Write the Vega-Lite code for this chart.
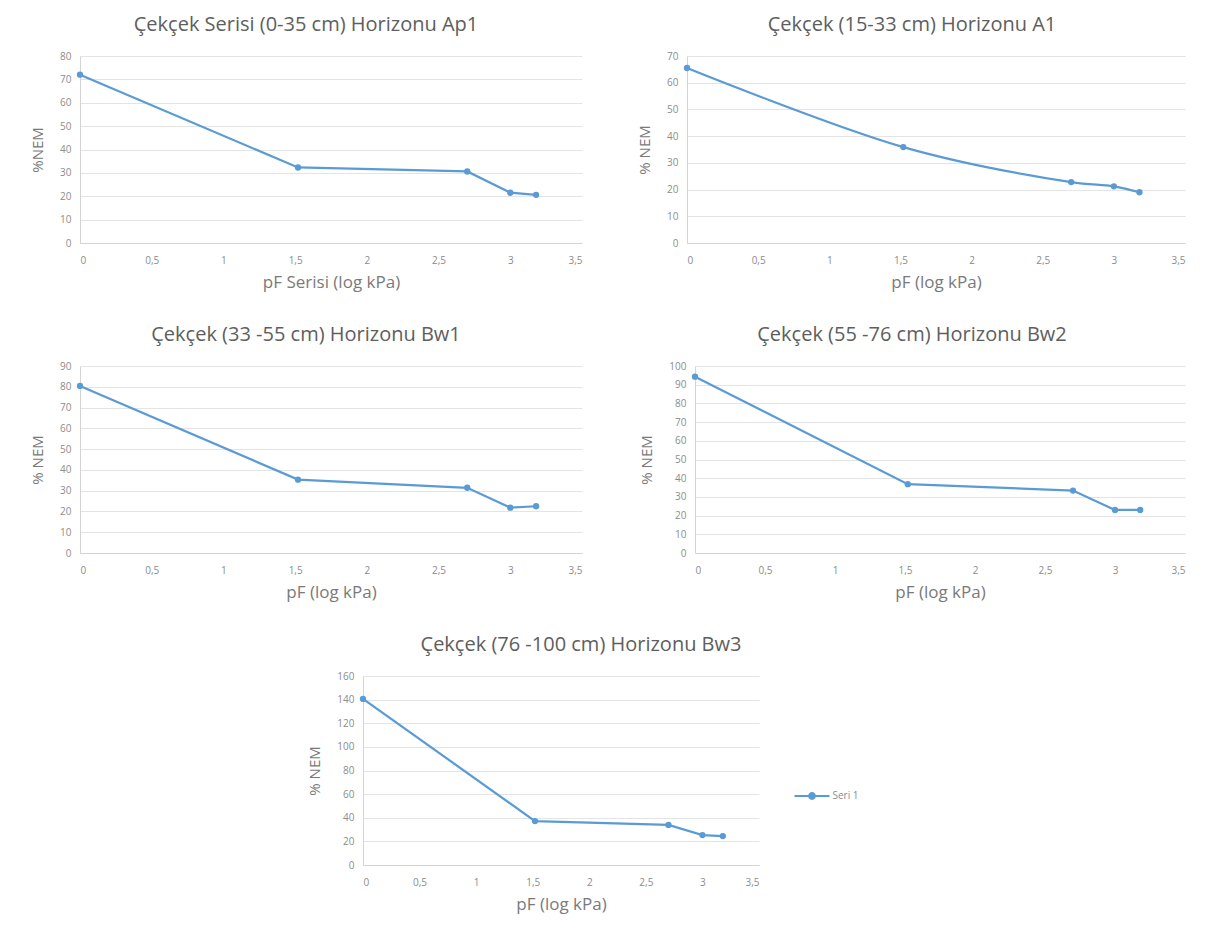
{
  "$schema": "https://vega.github.io/schema/vega-lite/v6.json",
  "background": "white",
  "padding": {"left": 30, "top": 15, "right": 5, "bottom": 5},
  "data": {"values": [
    {"panel": "p1", "pF": 0, "nem": 72, "seri": "Seri 1"},
    {"panel": "p1", "pF": 1.52, "nem": 32.3, "seri": "Seri 1"},
    {"panel": "p1", "pF": 2.7, "nem": 30.6, "seri": "Seri 1"},
    {"panel": "p1", "pF": 3.0, "nem": 21.5, "seri": "Seri 1"},
    {"panel": "p1", "pF": 3.18, "nem": 20.6, "seri": "Seri 1"},
    {"panel": "p2", "pF": 0, "nem": 65.5, "seri": "Seri 1"},
    {"panel": "p2", "pF": 1.52, "nem": 35.9, "seri": "Seri 1"},
    {"panel": "p2", "pF": 2.7, "nem": 22.8, "seri": "Seri 1"},
    {"panel": "p2", "pF": 3.0, "nem": 21.2, "seri": "Seri 1"},
    {"panel": "p2", "pF": 3.18, "nem": 19.0, "seri": "Seri 1"},
    {"panel": "p3", "pF": 0, "nem": 80.4, "seri": "Seri 1"},
    {"panel": "p3", "pF": 1.52, "nem": 35.3, "seri": "Seri 1"},
    {"panel": "p3", "pF": 2.7, "nem": 31.4, "seri": "Seri 1"},
    {"panel": "p3", "pF": 3.0, "nem": 21.8, "seri": "Seri 1"},
    {"panel": "p3", "pF": 3.18, "nem": 22.5, "seri": "Seri 1"},
    {"panel": "p4", "pF": 0, "nem": 94.3, "seri": "Seri 1"},
    {"panel": "p4", "pF": 1.52, "nem": 36.8, "seri": "Seri 1"},
    {"panel": "p4", "pF": 2.7, "nem": 33.4, "seri": "Seri 1"},
    {"panel": "p4", "pF": 3.0, "nem": 23.0, "seri": "Seri 1"},
    {"panel": "p4", "pF": 3.18, "nem": 23.0, "seri": "Seri 1"},
    {"panel": "p5", "pF": 0, "nem": 140.6, "seri": "Seri 1"},
    {"panel": "p5", "pF": 1.52, "nem": 37.2, "seri": "Seri 1"},
    {"panel": "p5", "pF": 2.7, "nem": 33.9, "seri": "Seri 1"},
    {"panel": "p5", "pF": 3.0, "nem": 25.3, "seri": "Seri 1"},
    {"panel": "p5", "pF": 3.18, "nem": 24.5, "seri": "Seri 1"}
  ]},
  "config": {
    "view": {"stroke": null},
    "font": "Open Sans",
    "axis": {
      "labelFont": "Open Sans", "labelFontSize": 10, "labelColor": "#8c8c8c",
      "titleFont": "Open Sans", "titleColor": "#7a7a7a", "titleFontWeight": "normal",
      "gridColor": "#e4e4e4", "domainColor": "#d4d4d4", "ticks": false
    },
    "axisX": {"titleFontSize": 17},
    "axisY": {"titleFontSize": 15},
    "title": {"font": "Open Sans", "fontSize": 20, "color": "#5e5e5e", "fontWeight": "normal", "anchor": "middle", "offset": 16}
  },
  "spacing": 35,
  "vconcat": [
    {
      "bounds": "flush",
      "spacing": 105,
      "hconcat": [
        {
          "width": 502, "height": 187,
          "title": {"text": "Çekçek Serisi (0-35 cm) Horizonu Ap1", "dx": -25},
          "transform": [{"filter": "datum.panel === 'p1'"}],
          "encoding": {
            "x": {"field": "pF", "type": "quantitative", "scale": {"domain": [0, 3.5], "nice": false},
              "axis": {"title": "pF Serisi (log kPa)", "grid": false, "values": [0, 0.5, 1, 1.5, 2, 2.5, 3, 3.5], "labelExpr": "replace(format(datum.value, ''), '.', ',')", "labelPadding": 12, "titlePadding": 9}},
            "y": {"field": "nem", "type": "quantitative", "scale": {"domain": [0, 80], "nice": false},
              "axis": {"title": "%NEM", "values": [0, 10, 20, 30, 40, 50, 60, 70, 80], "labelPadding": 9, "titlePadding": 14}}
          },
          "layer": [
            {"mark": {"type": "line", "color": "#5B9BD5", "strokeWidth": 2.25}},
            {"mark": {"type": "point", "filled": true, "color": "#5B9BD5", "size": 40, "opacity": 1}}
          ]
        },
        {
          "width": 498, "height": 187,
          "title": {"text": "Çekçek (15-33 cm) Horizonu A1", "dx": -24},
          "transform": [{"filter": "datum.panel === 'p2'"}],
          "encoding": {
            "x": {"field": "pF", "type": "quantitative", "scale": {"domain": [0, 3.5], "nice": false},
              "axis": {"title": "pF (log kPa)", "grid": false, "values": [0, 0.5, 1, 1.5, 2, 2.5, 3, 3.5], "labelExpr": "replace(format(datum.value, ''), '.', ',')", "labelPadding": 12, "titlePadding": 9}},
            "y": {"field": "nem", "type": "quantitative", "scale": {"domain": [0, 70], "nice": false},
              "axis": {"title": "% NEM", "values": [0, 10, 20, 30, 40, 50, 60, 70], "labelPadding": 9, "titlePadding": 14}}
          },
          "layer": [
            {"mark": {"type": "line", "color": "#5B9BD5", "strokeWidth": 2.25, "interpolate": "catmull-rom"}},
            {"mark": {"type": "point", "filled": true, "color": "#5B9BD5", "size": 40, "opacity": 1}}
          ]
        }
      ]
    },
    {
      "bounds": "flush",
      "spacing": 113,
      "hconcat": [
        {
          "width": 502, "height": 187,
          "title": {"text": "Çekçek (33 -55 cm) Horizonu Bw1", "dx": -25},
          "transform": [{"filter": "datum.panel === 'p3'"}],
          "encoding": {
            "x": {"field": "pF", "type": "quantitative", "scale": {"domain": [0, 3.5], "nice": false},
              "axis": {"title": "pF (log kPa)", "grid": false, "values": [0, 0.5, 1, 1.5, 2, 2.5, 3, 3.5], "labelExpr": "replace(format(datum.value, ''), '.', ',')", "labelPadding": 12, "titlePadding": 9}},
            "y": {"field": "nem", "type": "quantitative", "scale": {"domain": [0, 90], "nice": false},
              "axis": {"title": "% NEM", "values": [0, 10, 20, 30, 40, 50, 60, 70, 80, 90], "labelPadding": 9, "titlePadding": 14}}
          },
          "layer": [
            {"mark": {"type": "line", "color": "#5B9BD5", "strokeWidth": 2.25}},
            {"mark": {"type": "point", "filled": true, "color": "#5B9BD5", "size": 40, "opacity": 1}}
          ]
        },
        {
          "width": 490, "height": 187,
          "title": {"text": "Çekçek (55 -76 cm) Horizonu Bw2", "dx": -28},
          "transform": [{"filter": "datum.panel === 'p4'"}],
          "encoding": {
            "x": {"field": "pF", "type": "quantitative", "scale": {"domain": [0, 3.5], "nice": false},
              "axis": {"title": "pF (log kPa)", "grid": false, "values": [0, 0.5, 1, 1.5, 2, 2.5, 3, 3.5], "labelExpr": "replace(format(datum.value, ''), '.', ',')", "labelPadding": 12, "titlePadding": 9}},
            "y": {"field": "nem", "type": "quantitative", "scale": {"domain": [0, 100], "nice": false},
              "axis": {"title": "% NEM", "values": [0, 10, 20, 30, 40, 50, 60, 70, 80, 90, 100], "labelPadding": 9, "titlePadding": 14}}
          },
          "layer": [
            {"mark": {"type": "line", "color": "#5B9BD5", "strokeWidth": 2.25}},
            {"mark": {"type": "point", "filled": true, "color": "#5B9BD5", "size": 40, "opacity": 1}}
          ]
        }
      ]
    },
    {
      "bounds": "flush",
      "spacing": 0,
      "resolve": {"scale": {"color": "independent"}, "legend": {"color": "independent"}},
      "hconcat": [
        {"width": 283, "height": 10, "data": {"values": []}, "mark": {"type": "point", "opacity": 0}, "encoding": {}},
        {
          "width": 396, "height": 189,
          "title": {"text": "Çekçek (76 -100 cm) Horizonu Bw3", "dx": 20},
          "transform": [{"filter": "datum.panel === 'p5'"}],
          "encoding": {
            "x": {"field": "pF", "type": "quantitative", "scale": {"domain": [0, 3.5], "nice": false},
              "axis": {"title": "pF (log kPa)", "grid": false, "values": [0, 0.5, 1, 1.5, 2, 2.5, 3, 3.5], "labelExpr": "replace(format(datum.value, ''), '.', ',')", "labelPadding": 12, "titlePadding": 9}},
            "y": {"field": "nem", "type": "quantitative", "scale": {"domain": [0, 160], "nice": false},
              "axis": {"title": "% NEM", "values": [0, 20, 40, 60, 80, 100, 120, 140, 160], "labelPadding": 9, "titlePadding": 14}}
          },
          "layer": [
            {"mark": {"type": "line", "strokeWidth": 2.25},
              "encoding": {"color": {"field": "seri", "type": "nominal", "scale": {"range": ["#5B9BD5"]},
                "legend": {"title": null, "orient": "none", "legendX": 436, "legendY": 107,
                  "symbolType": "M-1.5,0L1.5,0M-0.25,0A0.25,0.25,0,1,1,0.25,0A0.25,0.25,0,1,1,-0.25,0Z",
                  "symbolSize": 544, "symbolStrokeWidth": 2, "labelOffset": 7.5, "labelFont": "Open Sans", "labelFontSize": 10, "labelColor": "#8c8c8c",
                  "symbolFillColor": "#5B9BD5", "symbolStrokeColor": "#5B9BD5",
                  "encode": {"symbols": {"update": {"fill": {"value": "#5B9BD5"}, "stroke": {"value": "#5B9BD5"}}}}}}}},
            {"mark": {"type": "point", "filled": true, "color": "#5B9BD5", "size": 40, "opacity": 1}}
          ]
        }
      ]
    }
  ]
}
